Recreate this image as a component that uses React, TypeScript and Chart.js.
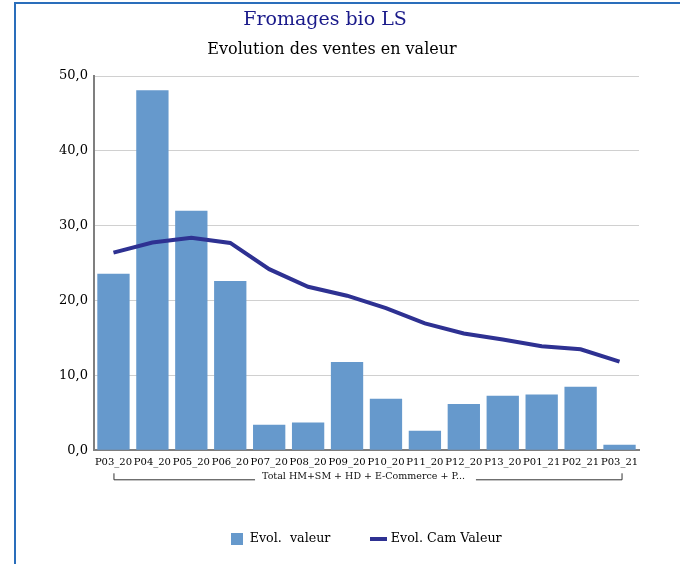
import React, { useEffect, useRef } from "react";
import { Chart, registerables } from "chart.js";

Chart.register(...registerables);

const titleText = "Fromages bio LS";
const subtitleText = "Evolution des ventes en valeur";
const categories = ["P03_20", "P04_20", "P05_20", "P06_20", "P07_20", "P08_20", "P09_20", "P10_20", "P11_20", "P12_20", "P13_20", "P01_21", "P02_21", "P03_21"];
const evolValeur = [23.6, 48.1, 32.0, 22.6, 3.4, 3.7, 11.8, 6.9, 2.6, 6.2, 7.3, 7.45, 8.5, 0.75];
const evolCamValeur = [26.4, 27.75, 28.4, 27.7, 24.2, 21.85, 20.65, 19.0, 16.95, 15.6, 14.8, 13.9, 13.5, 11.85];
const seriesNames = ["Evol.  valeur", "Evol. Cam Valeur"];
const groupLabel = "Total HM+SM + HD + E-Commerce + P...";
const yMin = 0;
const yMax = 50;
const yStep = 10;

const BAR_COLOR = "#6699cc";
const LINE_COLOR = "#2e3192";
const FONT = "'DejaVu Serif', serif";

function makeSwatch(w: number, h: number, color: string) {
  const c = document.createElement("canvas");
  c.width = w;
  c.height = h;
  const ctx = c.getContext("2d")!;
  ctx.fillStyle = color;
  ctx.fillRect(0, 0, w, h);
  return c;
}

const titles = {
  id: "customTitles",
  afterDraw(chart: any) {
    const ctx = chart.ctx;
    ctx.save();
    ctx.textAlign = "center";
    ctx.textBaseline = "middle";
    ctx.fillStyle = "#1a1a8a";
    ctx.font = `19px ${FONT}`;
    ctx.fillText(titleText, 325, 20);
    ctx.fillStyle = "#000";
    ctx.font = `16px ${FONT}`;
    ctx.fillText(subtitleText, 332, 50);
    ctx.restore();
  },
};

const groupBracket = {
  id: "groupBracket",
  afterDraw(chart: any) {
    const x = chart.scales.x;
    const ctx = chart.ctx;
    const left = x.getPixelForValue(0);
    const right = x.getPixelForValue(categories.length - 1) + 2;
    const yTop = x.top + 23;
    const yLine = x.top + 29;
    ctx.save();
    ctx.font = `9.5px ${FONT}`;
    const tw = ctx.measureText(groupLabel).width;
    const cx = (left + right) / 2 - 4;
    ctx.strokeStyle = "#333";
    ctx.lineWidth = 1;
    ctx.beginPath();
    ctx.moveTo(left + 0.5, yTop);
    ctx.lineTo(left + 0.5, yLine + 0.5);
    ctx.lineTo(cx - tw / 2 - 7, yLine + 0.5);
    ctx.moveTo(cx + tw / 2 + 11, yLine + 0.5);
    ctx.lineTo(right + 0.5, yLine + 0.5);
    ctx.lineTo(right + 0.5, yTop);
    ctx.stroke();
    ctx.fillStyle = "#111";
    ctx.textAlign = "center";
    ctx.textBaseline = "middle";
    ctx.fillText(groupLabel, cx, yLine - 3);
    ctx.restore();
  },
};

export default function App() {
  const ref = useRef<HTMLCanvasElement | null>(null);

  useEffect(() => {
    if (!ref.current) return;
    const barSwatch = makeSwatch(12, 12, BAR_COLOR);
    const lineSwatch = makeSwatch(17, 4, LINE_COLOR);
    const chart = new Chart(ref.current, {
      type: "bar",
      data: {
        labels: categories,
        datasets: [
          {
            type: "bar",
            label: seriesNames[0],
            data: evolValeur,
            backgroundColor: BAR_COLOR,
            categoryPercentage: 1,
            barPercentage: 0.83,
            order: 1,
          },
          {
            type: "line",
            label: seriesNames[1],
            data: evolCamValeur,
            borderColor: LINE_COLOR,
            backgroundColor: LINE_COLOR,
            borderWidth: 4,
            pointRadius: 0,
            tension: 0,
            fill: false,
            order: 0,
          },
        ],
      } as any,
      options: {
        animation: false,
        responsive: false,
        maintainAspectRatio: false,
        layout: { padding: { left: 20, right: 41, top: 76, bottom: 9 } },
        plugins: {
          title: { display: false },
          subtitle: { display: false },
          legend: {
            display: true,
            position: "bottom",
            fullSize: false,
            labels: {
              usePointStyle: true,
              pointStyleWidth: 12,
              boxHeight: 12,
              padding: 42,
              color: "#000",
              font: { family: FONT, size: 12.7 },
              sort: (a: any, b: any) => a.datasetIndex - b.datasetIndex,
              generateLabels: () => [
                { text: seriesNames[0], pointStyle: barSwatch, datasetIndex: 0, fillStyle: BAR_COLOR, strokeStyle: BAR_COLOR, lineWidth: 0, hidden: false },
                { text: seriesNames[1], pointStyle: lineSwatch, datasetIndex: 1, fillStyle: LINE_COLOR, strokeStyle: LINE_COLOR, lineWidth: 0, hidden: false },
              ],
            },
          },
          tooltip: { enabled: false },
        },
        scales: {
          x: {
            grid: { display: false, drawTicks: false },
            border: { display: true, color: "#7f7f7f", width: 2 },
            ticks: {
              autoSkip: false,
              maxRotation: 0,
              minRotation: 0,
              color: "#000",
              padding: 6,
              font: { family: FONT, size: 10 },
            },
            afterFit: (s: any) => {
              s.height = 40;
            },
          },
          y: {
            min: yMin,
            max: yMax,
            grid: { color: "#d0d0d0", lineWidth: 1, drawTicks: false },
            border: { display: true, color: "#7f7f7f", width: 2 },
            ticks: {
              stepSize: yStep,
              color: "#000",
              padding: 6,
              font: { family: FONT, size: 13 },
              callback: (v: any) => Number(v).toFixed(1).replace(".", ","),
            },
            afterFit: (s: any) => {
              s.width = 74;
            },
          },
        },
      } as any,
      plugins: [groupBracket, titles],
    });
    return () => chart.destroy();
  }, []);

  return (
    <div style={{ position: "fixed", left: 0, top: 0, width: 680, height: 564, overflow: "hidden", background: "#fff" }}>
      <div style={{ position: "absolute", left: 14, top: 2, width: 720, height: 620, border: "2px solid #2a6ebb" }} />
      <canvas ref={ref} width={680} height={564} style={{ position: "absolute", left: 0, top: 0, width: 680, height: 564 }} />
    </div>
  );
}
